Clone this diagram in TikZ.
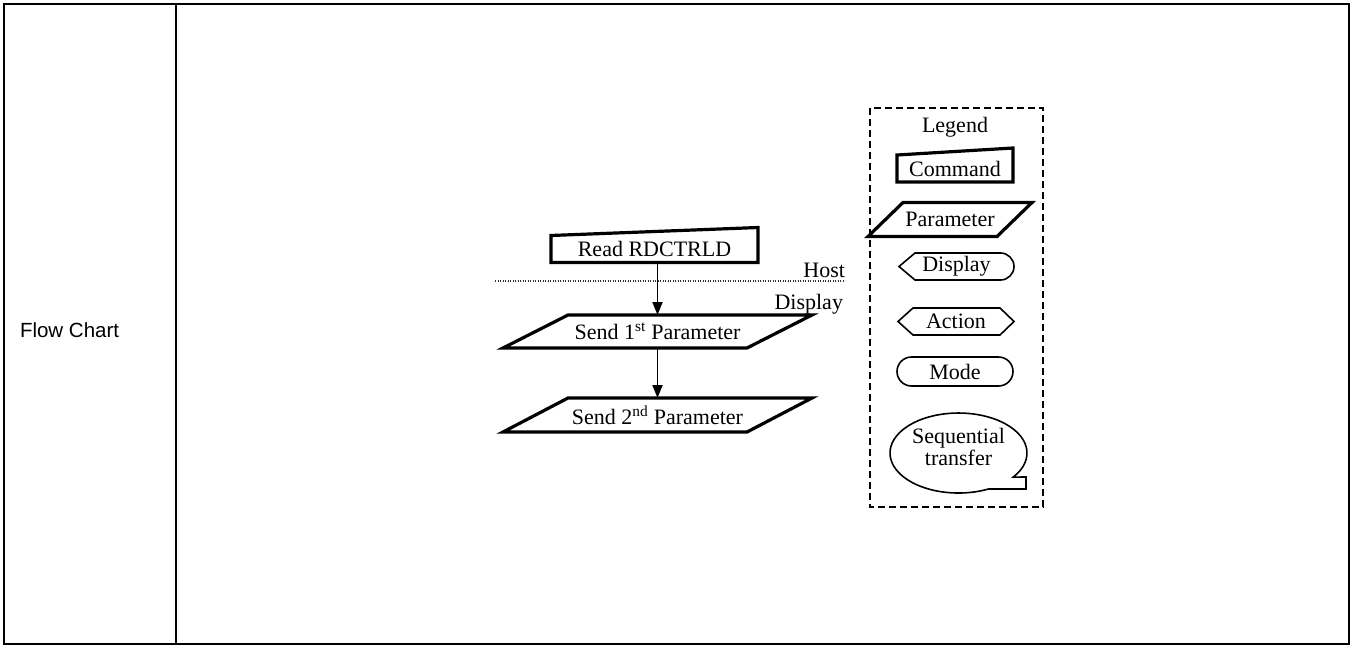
\documentclass[tikz,border=0pt]{standalone}
\usepackage{fontspec}
\setmainfont{Liberation Serif}
\setsansfont{Liberation Sans}
\usetikzlibrary{arrows.meta, calc}

\begin{document}
\begin{tikzpicture}[
    x=1pt, y=-1pt,
    every node/.style={inner sep=0pt, outer sep=0pt},
    lbl/.style={font=\fontsize{22}{22}\selectfont},
    shapebox/.style={lbl, minimum height=27pt},
    heavy/.style={line width=3.2pt, line join=miter},
    light/.style={line width=1.6pt},
    flow/.style={line width=1.8pt, -{Triangle[length=13pt, width=10pt]}},
  ]
  \useasboundingbox (0,0) rectangle (1354,648);

  % Table frame with row heading
  \draw[line width=2.4pt] (4,4) rectangle (1349,644);
  \draw[line width=2.4pt] (176,4) -- (176,644);
  \node[anchor=base west, font=\sffamily\fontsize{20.5}{24}\selectfont] (rowhead) at (20,337) {Flow Chart};

  % Flow: command from host, then two parameters
  \node[shapebox, minimum width=207pt, minimum height=28pt] (read) at (654.5,248.5) {Read RDCTRLD};
  \draw[heavy] (read.south west) -- (read.south east) -- ($(read.north east)+(0,-7)$) -- ($(read.north west)+(0,1)$) -- cycle;

  \node[shapebox, minimum width=244pt, minimum height=33pt] (par1) at (657.5,331.5) {Send 1\textsuperscript{st} Parameter};
  \draw[heavy] ($(par1.north west)+(32.5,0)$) -- ($(par1.north east)+(32.5,0)$) -- ($(par1.south east)+(-32.5,0)$) -- ($(par1.south west)+(-32.5,0)$) -- cycle;

  \node[shapebox, minimum width=244pt, minimum height=34pt] (par2) at (657.5,415) {Send 2\textsuperscript{nd} Parameter};
  \draw[heavy] ($(par2.north west)+(32.5,0)$) -- ($(par2.north east)+(32.5,0)$) -- ($(par2.south east)+(-32.5,0)$) -- ($(par2.south west)+(-32.5,0)$) -- cycle;

  \draw[flow] (read.south -| par1.north) -- (par1.north);
  \draw[flow] (par1) -- (par2);

  % Host / Display boundary
  \coordinate (hostl) at (495,281);
  \coordinate (hostr) at (845,281);
  \draw[black!80, line width=1.1pt, dash pattern=on 1.2pt off 1.3pt] (hostl) -- (hostr);
  \node[lbl, anchor=base east] (host) at (845,277) {Host};
  \node[lbl, anchor=base east] (display) at (843,309) {Display};

  % Legend box
  \draw[line width=2.4pt, dash pattern=on 7pt off 4pt] (870,108) rectangle (1043,507);
  \node[lbl, anchor=base] (legend) at (955,132) {Legend};

  \node[shapebox, minimum width=116pt] (lcmd) at (955,168.5) {Command};
  \draw[heavy] (lcmd.south west) -- (lcmd.south east) -- ($(lcmd.north east)+(0,-7)$) -- (lcmd.north west) -- cycle;

  \node[shapebox, minimum width=129pt, minimum height=34pt] (lpar) at (950,219.5) {Parameter};
  \draw[heavy] ($(lpar.north west)+(17.5,0)$) -- ($(lpar.north east)+(17.5,0)$) -- ($(lpar.south east)+(-17.5,0)$) -- ($(lpar.south west)+(-17.5,0)$) -- cycle;

  \node[shapebox, minimum width=115pt] (ldisp) at (956.5,266.5) {Display};
  \draw[light] (ldisp.west) -- ($(ldisp.north west)+(16,0)$) -- ($(ldisp.north east)+(-13.5,0)$)
    arc[start angle=-90, end angle=90, radius=13.5] -- ($(ldisp.south west)+(16,0)$) -- cycle;

  \node[shapebox, minimum width=116pt] (lact) at (956,321.5) {Action};
  \draw[light] (lact.west) -- ($(lact.north west)+(15,0)$) -- ($(lact.north east)+(-14,0)$) -- (lact.east)
    -- ($(lact.south east)+(-14,0)$) -- ($(lact.south west)+(15,0)$) -- cycle;

  \node[shapebox, draw, light, rounded corners=14.5pt, minimum width=116pt, minimum height=29pt] (lmode) at (955,371.5) {Mode};

  % Sequential transfer callout
  \node[lbl, align=center] (lseq) at (958.5,447) {Sequential\\transfer};
  \draw[light] (1013.2,477.1) arc[start angle=37, end angle=-296, x radius=68.5, y radius=40]
    -- (1026,489) -- (1026,477) -- cycle;
\end{tikzpicture}
\end{document}
